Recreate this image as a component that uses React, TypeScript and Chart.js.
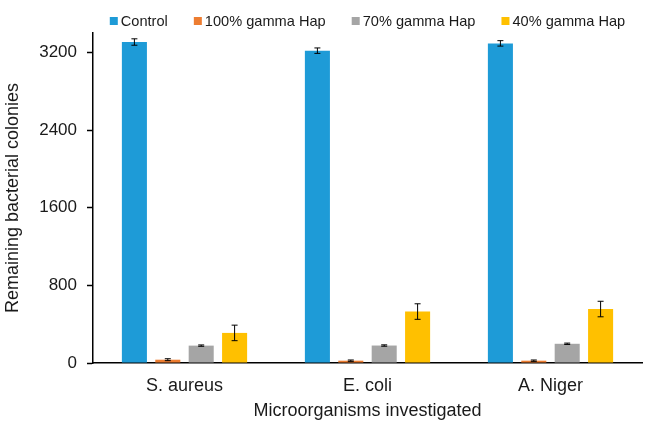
import React, { useEffect, useRef } from "react";
import { Chart, registerables } from "chart.js";

Chart.register(...registerables);

const categories = ["S. aureus", "E. coli", "A. Niger"];
const seriesLabels = ["Control", "100% gamma Hap", "70% gamma Hap", "40% gamma Hap"];
const controlValues = [3307, 3218, 3293];
const gamma100Values = [34, 24, 24];
const gamma70Values = [179, 180, 198];
const gamma40Values = [310, 530, 556];
const controlErrors = [33, 28, 28];
const gamma100Errors = [10, 7, 7];
const gamma70Errors = [7, 7, 7];
const gamma40Errors = [80, 80, 80];
const yTicks = [0, 800, 1600, 2400, 3200];
const seriesColors = ["#1E9BD7", "#ED7D31", "#A5A5A5", "#FFC000"];

const FONT = "'Liberation Sans', Arial, sans-serif";
const TEXT = "#1a1a1a";

const errorBarsPlugin = {
  id: "errorBars",
  afterDatasetsDraw(chart: any) {
    const { ctx } = chart;
    const y = chart.scales.y;
    chart.data.datasets.forEach((ds: any, di: number) => {
      const meta = chart.getDatasetMeta(di);
      meta.data.forEach((bar: any, i: number) => {
        const v = ds.data[i];
        const e = ds.errors[i];
        const yTop = y.getPixelForValue(v + e);
        const yBot = y.getPixelForValue(v - e);
        const x = bar.x;
        ctx.save();
        ctx.strokeStyle = "#000";
        ctx.lineWidth = 1;
        ctx.beginPath();
        ctx.moveTo(x, yTop);
        ctx.lineTo(x, yBot);
        ctx.moveTo(x - 3, yTop);
        ctx.lineTo(x + 3, yTop);
        ctx.moveTo(x - 3, yBot);
        ctx.lineTo(x + 3, yBot);
        ctx.stroke();
        ctx.restore();
      });
    });
  },
};

const legendPlugin = {
  id: "customLegend",
  afterDraw(chart: any) {
    const { ctx, chartArea } = chart;
    ctx.save();
    ctx.font = `14.6px ${FONT}`;
    ctx.textBaseline = "middle";
    const box = 8;
    const gapText = 3;
    const gapItem = 26;
    const items = chart.data.datasets.map((ds: any) => ({
      label: ds.label,
      color: ds.backgroundColor,
      w: box + gapText + ctx.measureText(ds.label).width,
    }));
    const total = items.reduce((s: number, it: any) => s + it.w, 0) + gapItem * (items.length - 1);
    let x = (chartArea.left + chartArea.right) / 2 - total / 2;
    const cy = 21;
    items.forEach((it: any) => {
      ctx.fillStyle = it.color;
      ctx.fillRect(x, cy - box / 2, box, box);
      ctx.fillStyle = TEXT;
      ctx.fillText(it.label, x + box + gapText, cy + 0.5);
      x += it.w + gapItem;
    });
    ctx.restore();
  },
};

export default function App() {
  const ref = useRef<HTMLCanvasElement | null>(null);
  useEffect(() => {
    if (!ref.current) return;
    const errs = [controlErrors, gamma100Errors, gamma70Errors, gamma40Errors];
    const vals = [controlValues, gamma100Values, gamma70Values, gamma40Values];
    const chart = new Chart(ref.current, {
      type: "bar",
      data: {
        labels: categories,
        datasets: seriesLabels.map((label, i) => ({
          label,
          data: vals[i],
          errors: errs[i],
          backgroundColor: seriesColors[i],
          borderWidth: 0,
          barPercentage: 0.75,
          categoryPercentage: 0.73,
        })) as any,
      },
      options: {
        animation: false,
        responsive: false,
        maintainAspectRatio: false,
        layout: { padding: { top: 33, right: 3, left: 0, bottom: 0 } },
        plugins: {
          legend: { display: false },
          tooltip: { enabled: false },
        },
        scales: {
          x: {
            grid: { display: false, drawTicks: false },
            border: { display: true, color: "#000", width: 1.5 },
            ticks: {
              color: TEXT,
              font: { family: FONT, size: 18 },
              padding: 12,
            },
            title: {
              display: true,
              text: "Microorganisms investigated",
              color: TEXT,
              font: { family: FONT, size: 18 },
              padding: { top: 0, bottom: 9 },
            },
            afterFit(scale: any) {
              scale.height = 68;
            },
          },
          y: {
            min: 0,
            max: 3400,
            afterBuildTicks(scale: any) {
              scale.ticks = yTicks.map((v) => ({ value: v }));
            },
            grid: {
              display: true,
              drawOnChartArea: false,
              drawTicks: true,
              tickLength: 6,
              tickColor: "#000",
              tickWidth: 1.5,
            },
            border: { display: true, color: "#000", width: 1.5 },
            ticks: {
              color: TEXT,
              font: { family: FONT, size: 17 },
              padding: 10,
              callback: (v: any) => String(v),
            },
            title: {
              display: true,
              text: "Remaining bacterial colonies",
              color: TEXT,
              font: { family: FONT, size: 18 },
              padding: { top: 2, bottom: 0 },
            },
            afterFit(scale: any) {
              scale.width = 93;
            },
          },
        },
      },
      plugins: [errorBarsPlugin, legendPlugin],
    } as any);
    return () => chart.destroy();
  }, []);
  return (
    <div style={{ position: "fixed", left: 0, top: 0, width: 645, height: 431, background: "#fff" }}>
      <canvas ref={ref} width={645} height={431} style={{ width: 645, height: 431 }} />
    </div>
  );
}
